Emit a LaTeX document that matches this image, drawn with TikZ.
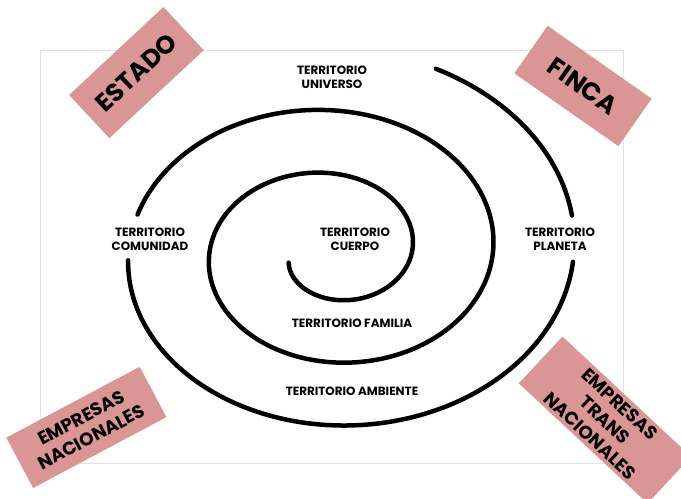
\documentclass[tikz,border=0pt]{standalone}
\usepackage{fontspec}
\setmainfont{Poppins}
\usetikzlibrary{positioning}
\definecolor{rosa}{RGB}{218,150,149}
\definecolor{marco}{RGB}{226,226,226}

\tikzset{
    etiqueta/.style={font=\bfseries\fontsize{8.5}{10}\selectfont, align=center, inner sep=1pt},
    cartel/.style={fill=rosa, align=center, inner sep=0pt, font=\bfseries\fontsize{18}{20}\selectfont},
    cartelchico/.style={cartel, font=\bfseries\fontsize{13}{15.5}\selectfont},
    espiral/.style={line width=3.2pt, line cap=round, smooth, variable=\t}
}

\begin{document}
\begin{tikzpicture}
    \useasboundingbox (0,0) rectangle (17.025,12.475);

    % Frame
    \draw[marco, line width=0.6pt] (1.0,0.9) rectangle (15.575,11.225);

    % Spiral, cut where the labels sit
    \draw[espiral, domain=198:886, samples=220]
        plot ({8.275 + 2.025*\t/360*cos(\t)}, {6.175 + 1.575*\t/360*sin(\t)});
    \draw[espiral, domain=903:1077, samples=60]
        plot ({8.275 + 2.025*\t/360*cos(\t)}, {6.175 + 1.575*\t/360*sin(\t)});
    \draw[espiral, domain=1091:1146, samples=25]
        plot ({8.275 + 2.025*\t/360*cos(\t)}, {6.175 + 1.575*\t/360*sin(\t)});

    % Territories
    \node[etiqueta] (universo) at (8.3,10.535) {TERRITORIO\\UNIVERSO};
    \node[etiqueta] (comunidad) at (3.75,6.5) {TERRITORIO\\COMUNIDAD};
    \node[etiqueta] (cuerpo) at (8.875,6.5) {TERRITORIO\\CUERPO};
    \node[etiqueta] (planeta) at (14.0,6.5) {TERRITORIO\\PLANETA};
    \node[etiqueta] (familia) at (8.8,4.4) {TERRITORIO FAMILIA};
    \node[etiqueta] (ambiente) at (8.8,2.7) {TERRITORIO AMBIENTE};

    % Corner signs
    \node[cartel, rotate=43, minimum width=3.225cm, minimum height=1.475cm] (estado) at (3.41,10.66) {ESTADO};
    \node[cartel, rotate=-35, minimum width=3.175cm, minimum height=1.45cm] (finca) at (14.575,10.325) {FINCA};
    \node[cartelchico, rotate=28, minimum width=3.775cm, minimum height=1.425cm] (nacionales) at (2.16,1.79) {EMPRESAS\\NACIONALES};
    \node[cartelchico, rotate=-43, minimum width=4.4cm, minimum height=1.6cm] (trans) at (15.125,1.975) {EMPRESAS\\TRANS\\NACIONALES};
\end{tikzpicture}
\end{document}
